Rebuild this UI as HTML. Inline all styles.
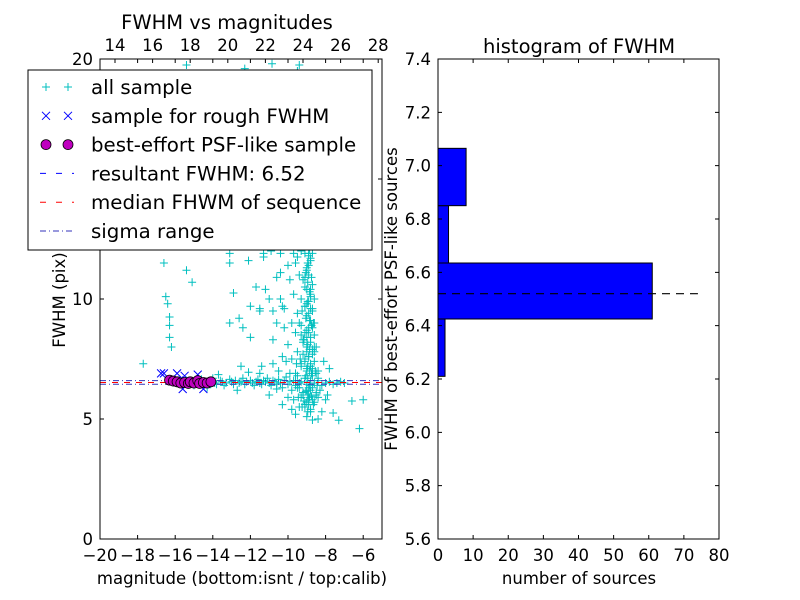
<!DOCTYPE html>
<html><head><meta charset="utf-8">
<style>
html,body{margin:0;padding:0;background:#fff;}
svg{display:block;font-family:"DejaVu Sans","Liberation Sans",sans-serif;}
</style></head>
<body>
<svg id="fig" width="800" height="600" viewBox="0 0 800 600">
<rect width="800" height="600" fill="#fff"/>
<g id="left"></g>
<g id="right"></g>
</svg>
<script>
// ---------- data: scatter ----------
const allMag = [-16.0,-15.8,-15.6,-15.4,-15.2,-15.0,-14.8,-14.6,-14.4,-14.2,-14.0,-13.9,-13.8,-13.6,-13.5,-13.4,-13.3,-13.1,-13.0,-12.9,-12.8,-12.6,-12.5,-12.4,-12.3,-12.2,-12.0,-11.9,-11.8,-11.7,-11.6,-11.5,-11.4,-11.3,-11.2,-11.1,-11.0,-10.9,-10.8,-10.7,-10.6,-10.5,-10.4,-10.3,-10.2,-10.1,-10.0,-9.9,-9.8,-9.7,-9.6,-9.5,-9.4,-9.3,-9.2,-9.1,-9.0,-8.9,-8.8,-8.7,-8.6,-8.5,-8.4,-8.2,-8.0,-7.8,-7.6,-7.4,-7.2,-7.0,-13.7,-12.7,-11.5,-10.6,-12.1,-14.3,
-9.0,-8.9,-9.1,-8.8,-9.0,-8.9,-9.2,-8.7,-9.0,-8.8,-9.3,-8.9,-9.1,-8.7,-9.0,-8.8,-9.4,-8.9,-9.1,-8.6,-9.2,-8.8,-9.0,-8.7,-9.5,-8.9,-9.1,-8.6,-9.3,-8.8,-9.0,-8.5,-9.6,-8.7,-9.2,-8.9,-9.1,-8.6,-9.4,-8.8,-9.0,-9.3,-8.4,-9.7,-8.3,-9.8,-9.6,-9.5,-9.7,-9.4,-9.6,-9.3,-9.5,-8.6,-8.5,-8.6,-8.4,-9.8,-10.0,-10.1,-10.2,-9.9,-9.9,-10.0,-10.2,-10.3,-10.5,-10.8,-10.0,-10.3,-9.8,-9.6,-11.0,-9.2,-9.0,-8.8,-9.1,-8.9,-9.3,-8.7,-9.0,
-8.7,-8.2,-7.6,-7.3,-6.6,-6.0,-6.2,-7.8,-8.1,-8.0,-8.4,-7.9,
-16.6,-15.4,-15.1,-16.5,-16.4,-16.3,-16.3,-16.3,-16.2,-17.7,
-13.1,-13.1,-12.1,-12.9,-11.7,-11.2,-12.0,-11.5,-11.5,-13.1,-12.6,-12.4,-12.0,-12.5,-11.4,-10.8,-10.6,-10.8,-10.3,-10.4,-11.0,-10.6,-10.4,-11.3,-10.9,-10.4,-9.7,-9.5,-11.3,
-15.4,-10.85,-9.4,-12.3,-9.5];
const allFwhm = [6.6,6.5,6.45,6.6,6.55,6.4,6.5,6.65,6.5,6.55,6.7,6.5,6.45,6.6,6.55,6.4,6.5,6.65,6.55,6.45,6.6,6.5,6.55,6.7,6.45,6.55,6.6,6.5,6.4,6.55,6.65,6.5,6.45,6.6,6.55,6.7,6.5,6.4,6.6,6.55,6.45,6.65,6.5,6.3,6.6,6.75,6.45,6.55,6.2,6.6,6.4,6.8,6.3,6.55,6.1,6.7,6.45,6.0,6.6,6.3,6.5,6.1,6.6,6.4,6.5,6.55,6.45,6.5,6.55,6.5,6.85,6.2,6.9,6.25,6.95,6.3,
12.5,12.2,11.9,11.6,11.3,11.0,10.8,10.6,10.4,10.2,10.0,9.9,9.7,9.5,9.3,9.1,9.0,8.8,8.6,8.5,8.3,8.2,8.0,7.9,7.8,7.6,7.5,7.4,7.3,7.2,7.0,6.9,6.9,6.8,6.0,5.8,5.6,5.7,5.5,5.3,5.1,5.9,5.9,5.8,6.2,7.5,8.6,9.4,10.2,11.0,11.5,12.0,12.4,9.0,8.0,10.0,7.0,9.0,8.1,7.4,8.8,6.9,10.8,11.4,9.6,7.6,7.0,7.3,5.9,5.6,5.4,5.2,6.0,7.7,8.4,9.6,10.9,11.8,8.9,7.1,6.2,
4.96,5.3,5.25,4.95,5.75,5.8,4.6,7.1,7.4,5.8,5.0,6.0,
11.5,11.2,10.7,10.1,9.8,9.25,8.9,8.4,8.0,7.3,
11.9,11.5,11.6,10.25,10.5,10.4,9.7,9.6,9.5,9.0,9.2,8.8,8.4,7.2,7.2,8.3,9.0,9.5,9.7,10.0,10.0,10.9,11.1,11.9,12.0,11.9,11.9,11.75,11.75,
19.75,19.8,19.75,19.6,19.5];
const plumeMag = [-9.0,-8.95,-8.85,-8.8,-8.9,-9.05,-8.75,-8.95,-9.1,-8.85,-8.8,-8.95,-9.0,-8.7,-8.9,-9.05,-8.85,-8.75,-9.0,-8.9,-8.8,-9.15,-8.95,-8.85,-9.0,-8.7,-8.9,-9.1,-8.8,-8.95,-9.0,-8.85,-8.75,-9.05,-8.9,-8.8,-9.2,-8.95,-8.85,-8.7,-9.0,-8.9,-9.1,-8.8,-8.95,-9.25,-8.65,-9.3,-8.6,-9.35,-8.55,-9.4,-8.5,-9.45,-8.9,-9.0,-8.8,-9.1,-8.7,-9.2,-8.6,-9.3,-8.95,-8.85,-9.05,-8.75,-9.15,-8.65,-9.25,-9.5,-9.55,-8.45,-8.4,-9.6,-9.0,-8.9,-8.8,-9.05,-8.7,-8.95];
const plumeFwhm = [12.8,12.4,12.1,11.7,11.4,11.1,10.9,10.7,10.5,10.3,10.1,9.9,9.8,9.6,9.4,9.2,9.1,8.9,8.7,8.6,8.4,8.3,8.1,7.9,7.8,7.7,7.6,7.4,7.3,7.2,7.1,7.0,6.9,6.8,6.3,6.2,6.1,6.0,5.9,5.8,5.7,5.6,5.5,5.4,5.3,9.5,9.0,8.5,8.0,7.5,7.0,6.5,6.0,5.9,11.9,11.2,10.4,9.7,8.8,8.2,7.8,7.2,6.7,6.4,6.15,5.95,5.75,5.6,5.5,6.3,7.3,6.4,6.7,6.6,13.0,12.9,12.6,12.3,11.9,11.5];
const roughMag = [-16.75,-16.6,-15.9,-15.5,-14.8,-15.6,-14.5,-16.0,-15.2,-14.6,-15.8];
const roughFwhm = [6.9,6.9,6.9,6.8,6.85,6.25,6.25,6.6,6.5,6.55,6.6];
const bestMag = [-16.3,-16.1,-15.9,-15.7,-15.5,-15.3,-15.2,-15.0,-14.8,-14.7,-14.5,-14.3,-14.1];
const bestFwhm = [6.62,6.58,6.55,6.5,6.52,6.48,6.55,6.5,6.6,6.48,6.52,6.5,6.55];
const resultFwhm = 6.52;
const medianFwhm = 6.52;
const sigmaLow = 6.45;
const sigmaHigh = 6.6;
const bottomTicks = [-20,-18,-16,-14,-12,-10,-8,-6];
const topTicks = [14,16,18,20,22,24,26,28];
const leftYTicks = [0,5,10,15,20];
// ---------- data: histogram ----------
const binEdges = [6.21,6.425,6.635,6.85,7.065];
const binCounts = [2,61,3,8];
const histXTicks = [0,10,20,30,40,50,60,70,80];
const histYTicks = [5.6,5.8,6.0,6.2,6.4,6.6,6.8,7.0,7.2,7.4];
const dashedEnd = 74;

const NS = "http://www.w3.org/2000/svg";
function mk(parent, tag, attrs, text){
  const e = document.createElementNS(NS, tag);
  for (const k in attrs) e.setAttribute(k, attrs[k]);
  if (text !== undefined) e.textContent = text;
  parent.appendChild(e);
  return e;
}
const L = document.getElementById('left');
const R = document.getElementById('right');

const lx0=100, lx1=382, ly0=59, ly1=539;
const xS = v => lx0 + (v + 20) / 15 * (lx1 - lx0);
const yS = v => ly1 - v / 20 * (ly1 - ly0);
const tS = v => 115 + (v - 14) * 18.8;

const pts = mk(L,'g',{});


const cMag = allMag.concat(plumeMag), cFwhm = allFwhm.concat(plumeFwhm);
for (let i=0;i<cMag.length;i++){
  const x=xS(cMag[i]), y=yS(cFwhm[i]);
  const p = mk(pts,'path',{d:`M${x-4},${y}h8M${x},${y-4}v8`,stroke:'#00bfbf','stroke-width':1});
  
  
}
function hline(v,color,dash,name){
  const l = mk(L,'line',{x1:lx0,x2:lx1,y1:yS(v),y2:yS(v),stroke:color,'stroke-width':1,'stroke-dasharray':dash});
  
  
}
hline(sigmaLow,'#3333bb','6,3,1,3','sigma-low-line');
hline(sigmaHigh,'#3333bb','6,3,1,3','sigma-high-line');
hline(resultFwhm,'#0000ff','6,6','resultant-fwhm-line');
hline(medianFwhm,'#ff0000','6,6','median-fwhm-line');
const rg = mk(L,'g',{});


for (let i=0;i<roughMag.length;i++){
  const x=xS(roughMag[i]), y=yS(roughFwhm[i]);
  const p = mk(rg,'path',{d:`M${x-4},${y-4}l8,8M${x-4},${y+4}l8,-8`,stroke:'#0000ff','stroke-width':1});
  
  
}
const bg = mk(L,'g',{});


for (let i=0;i<bestMag.length;i++){
  const c = mk(bg,'circle',{cx:xS(bestMag[i]),cy:yS(bestFwhm[i]),r:5,fill:'#bf00bf',stroke:'#000','stroke-width':0.8});
  
  
}
const lf = mk(L,'rect',{x:lx0,y:ly0,width:lx1-lx0,height:ly1-ly0,fill:'none',stroke:'#000','stroke-width':1});


for (const t of bottomTicks){
  const x=xS(t);
  mk(L,'path',{d:`M${x},${ly1}v-4M${x},${ly0}v4`,stroke:'#000'});
  const tx = mk(L,'text',{x:x,y:ly1+22,'text-anchor':'middle','font-size':16.5},String(t).replace('-','\u2212'));
  
  
}
for (const t of topTicks){
  const x=tS(t);
  mk(L,'path',{d:`M${x},${ly0}v4`,stroke:'#000'});
  const tx = mk(L,'text',{x:x,y:ly0-8,'text-anchor':'middle','font-size':16.5},String(t));
  
  
}
for (const t of leftYTicks){
  const y=yS(t);
  mk(L,'path',{d:`M${lx0},${y}h4M${lx1},${y}h-4`,stroke:'#000'});
  const tx = mk(L,'text',{x:lx0-7,y:y+6,'text-anchor':'end','font-size':16.5},String(t));
  
  
}
let e;
e = mk(L,'text',{x:227,y:29,'text-anchor':'middle','font-size':19.5},'FWHM vs magnitudes');


e = mk(L,'text',{x:242,y:584,'text-anchor':'middle','font-size':16.5},'magnitude (bottom:isnt / top:calib)');


e = mk(L,'text',{x:0,y:0,'text-anchor':'middle','font-size':16.5,transform:'translate(65,300) rotate(-90)'},'FWHM (pix)');



const lg = mk(L,'g',{});


mk(lg,'rect',{x:28,y:70,width:344,height:180,fill:'#fff',stroke:'#000','stroke-width':1});
const legendLabels=['all sample','sample for rough FWHM','best-effort PSF-like sample','resultant FWHM: 6.52','median FHWM of sequence','sigma range'];
legendLabels.forEach((lab,i)=>{
  const y = 87 + i*28.8;
  const g = mk(lg,'g',{});
  
  
  [46,68].forEach(x=>{
    if(i===0) mk(g,'path',{d:`M${x-4},${y}h8M${x},${y-4}v8`,stroke:'#00bfbf'});
    if(i===1) mk(g,'path',{d:`M${x-4},${y-4}l8,8M${x-4},${y+4}l8,-8`,stroke:'#0000ff'});
    if(i===2) mk(g,'circle',{cx:x,cy:y,r:5,fill:'#bf00bf',stroke:'#000','stroke-width':0.8});
  });
  if(i===3) mk(g,'line',{x1:40,x2:74,y1:y,y2:y,stroke:'#0000ff','stroke-dasharray':'6,10'});
  if(i===4) mk(g,'line',{x1:40,x2:74,y1:y,y2:y,stroke:'#ff0000','stroke-dasharray':'6,10'});
  if(i===5) mk(g,'line',{x1:40,x2:74,y1:y,y2:y,stroke:'#3333bb','stroke-dasharray':'6,3,1,3'});
  mk(g,'text',{x:91,y:y+7,'font-size':19.8},lab);
});

const rx0=438, rx1=719, ry0=59, ry1=539;
const hx = v => rx0 + v/80*(rx1-rx0);
const hy = v => ry1 - (v-5.6)/1.8*(ry1-ry0);
for (let i=0;i<binCounts.length;i++){
  const y1=hy(binEdges[i+1]), y2=hy(binEdges[i]);
  const b = mk(R,'rect',{x:hx(0),y:y1,width:hx(binCounts[i])-hx(0),height:y2-y1,fill:'#0000ff',stroke:'#000','stroke-width':1});
  
  
}
e = mk(R,'line',{x1:hx(0),x2:hx(dashedEnd),y1:hy(resultFwhm),y2:hy(resultFwhm),stroke:'#000','stroke-dasharray':'8,6','stroke-width':1.2});


e = mk(R,'rect',{x:rx0,y:ry0,width:rx1-rx0,height:ry1-ry0,fill:'none',stroke:'#000'});


for (const t of histXTicks){
  const x=hx(t);
  mk(R,'path',{d:`M${x},${ry1}v-4M${x},${ry0}v4`,stroke:'#000'});
  const tx = mk(R,'text',{x:x,y:ry1+22,'text-anchor':'middle','font-size':16.5},String(t));
  
  
}
for (const t of histYTicks){
  const y=hy(t);
  mk(R,'path',{d:`M${rx0},${y}h4M${rx1},${y}h-4`,stroke:'#000'});
  const tx = mk(R,'text',{x:rx0-7,y:y+6,'text-anchor':'end','font-size':16.5},t.toFixed(1));
  
  
}
e = mk(R,'text',{x:579,y:53,'text-anchor':'middle','font-size':19.5},'histogram of FWHM');


e = mk(R,'text',{x:579,y:584,'text-anchor':'middle','font-size':16.5},'number of sources');


e = mk(R,'text',{x:0,y:0,'text-anchor':'middle','font-size':16.5,transform:'translate(397,299) rotate(-90)'},'FWHM of best-effort PSF-like sources');


</script>
</body></html>
